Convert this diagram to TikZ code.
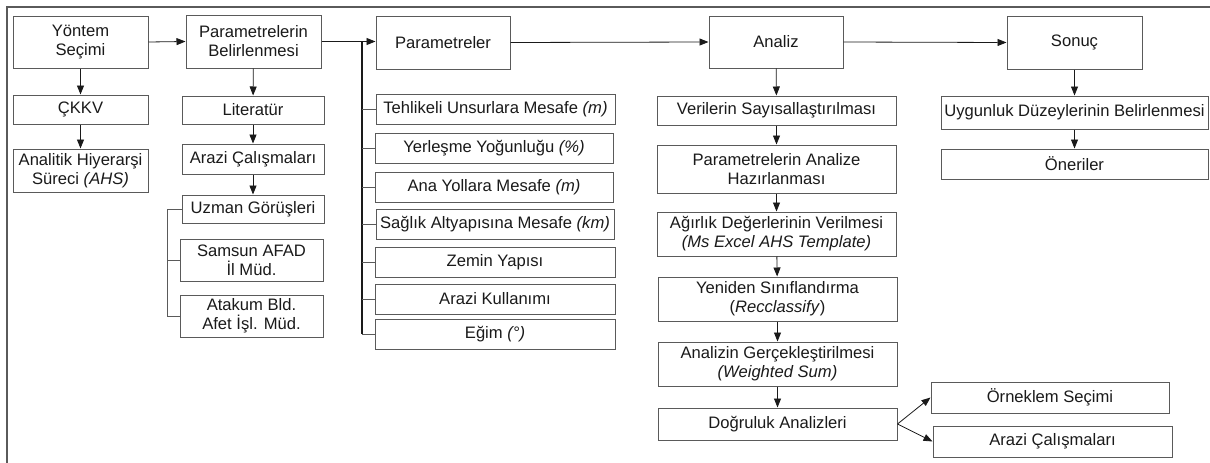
\documentclass[tikz,border=0pt]{standalone}
\usepackage{fontspec}
\setmainfont{Liberation Sans}
\usetikzlibrary{arrows.meta}
\definecolor{bordc}{HTML}{5A5A5A}
\definecolor{txtc}{HTML}{1A1A1A}
\tikzset{
  box/.style={draw=bordc, line width=1pt, inner sep=0pt, align=center, text=txtc, font=\fontsize{16.6}{19}\selectfont},
  arr/.style={draw=txtc, line width=0.8pt, -{Triangle[length=9pt,width=7pt]}},
  ln/.style={draw=bordc, line width=0.8pt},
  thickln/.style={draw=txtc, line width=1.2pt}
}
\newcommand\mybox[6]{\node[box, minimum width={#4-#2}, minimum height={#5-#3}] (#1) at ({(#2+#4)/2},{(#3+#5)/2}) {#6};}
\begin{document}
\begin{tikzpicture}[x=1pt,y=-1pt]
\useasboundingbox (0,0) rectangle (1210,463);
\fill[white] (0,0) rectangle (1210,463);
\draw[line width=2pt, bordc] (7,463) -- (7,7) -- (1210,7);
% column 1
\mybox{ys}{13}{16}{148}{68}{Yöntem\\Seçimi}
\mybox{ckkv}{13}{95}{148}{124}{ÇKKV}
\mybox{ahs}{13}{149}{148}{192}{Analitik Hiyerarşi\\Süreci \textit{(AHS)}}
% column 2
\mybox{pb}{186}{15}{321}{68}{Parametrelerin\\Belirlenmesi}
\mybox{lit}{182}{96}{324}{124}{Literatür}
\mybox{ar1}{182}{144}{324}{174}{Arazi Çalışmaları}
\mybox{uz}{182}{195}{324}{223}{Uzman Görüşleri}
\mybox{sam}{180}{239}{323}{281}{Samsun AFAD\\İl Müd.}
\mybox{atk}{180}{295}{323}{337}{Atakum Bld.\\Afet İşl. Müd.}
% column 3
\mybox{par}{376}{16}{510}{69}{Parametreler}
\mybox{p1}{376}{94}{615}{124}{Tehlikeli Unsurlara Mesafe \textit{(m)}}
\mybox{p2}{375}{133}{613}{163}{Yerleşme Yoğunluğu \textit{(\%)}}
\mybox{p3}{375}{172}{613}{202}{Ana Yollara Mesafe \textit{(m)}}
\mybox{p4}{376}{209}{614}{239}{Sağlık Altyapısına Mesafe \textit{(km)}}
\mybox{p5}{375}{247}{615}{277}{Zemin Yapısı}
\mybox{p6}{375}{284}{615}{314}{Arazi Kullanımı}
\mybox{p7}{375}{319}{615}{349}{Eğim \textit{(°)}}
% column 4
\mybox{an}{709}{16}{843}{68}{Analiz}
\mybox{ver}{657}{96}{896}{125}{Verilerin Sayısallaştırılması}
\mybox{haz}{657}{145}{896}{193}{Parametrelerin Analize\\Hazırlanması}
\mybox{agi}{657}{212}{896}{256}{Ağırlık Değerlerinin Verilmesi\\\textit{(Ms Excel AHS Template)}}
\mybox{yen}{658}{277}{897}{321}{Yeniden Sınıflandırma\\(\textit{Recclassify})}
\mybox{anz}{658}{342}{897}{386}{Analizin Gerçekleştirilmesi\\\textit{(Weighted Sum)}}
\mybox{dog}{658}{408}{897}{440}{Doğruluk Analizleri}
\mybox{orn}{931}{382}{1169}{413}{Örneklem Seçimi}
\mybox{ar2}{933}{426}{1172}{457}{Arazi Çalışmaları}
% column 5
\mybox{so}{1007}{16}{1142}{69}{Sonuç}
\mybox{uyg}{941}{96}{1208}{129}{Uygunluk Düzeylerinin Belirlenmesi}
\mybox{one}{941}{149}{1208}{179}{Öneriler}
% helper coordinates
\coordinate (bx) at (167,0);
\coordinate (vx) at (362,0);
% connectors
\draw[arr] (ys) -- (ckkv);
\draw[arr] (ckkv) -- (ahs);
\draw[arr] (ys.east) -- (pb.west);
\draw[arr] (pb) -- (lit);
\draw[arr] (lit) -- (ar1);
\draw[arr] (ar1) -- (uz);
\draw[ln] (uz.west) -- (uz.west -| bx) |- (atk.west);
\draw[ln] (sam.west) -- (sam.west -| bx);
\draw[arr] (pb.east) -- (pb.east -| par.west);
\draw[thickln] (pb.east -| vx) -- (p7.west -| vx);
\foreach \p in {p1,p2,p3,p4,p5,p6,p7} { \draw[ln] (\p.west -| vx) -- (\p.west); }
\draw[arr] (par.east) -- (an.west);
\draw[arr] (an.east) -- (so.west);
\draw[arr] (an) -- (ver);
\draw[arr] (ver) -- (haz);
\draw[arr] (haz) -- (agi);
\draw[arr] (agi) -- (yen);
\draw[arr] (yen) -- (anz);
\draw[arr] (anz) -- (dog);
\draw[arr] (dog.east) -- (orn.west);
\draw[arr] (dog.east) -- (ar2.west);
\draw[arr] (so) -- (uyg);
\draw[arr] (uyg) -- (one);
\end{tikzpicture}
\end{document}
